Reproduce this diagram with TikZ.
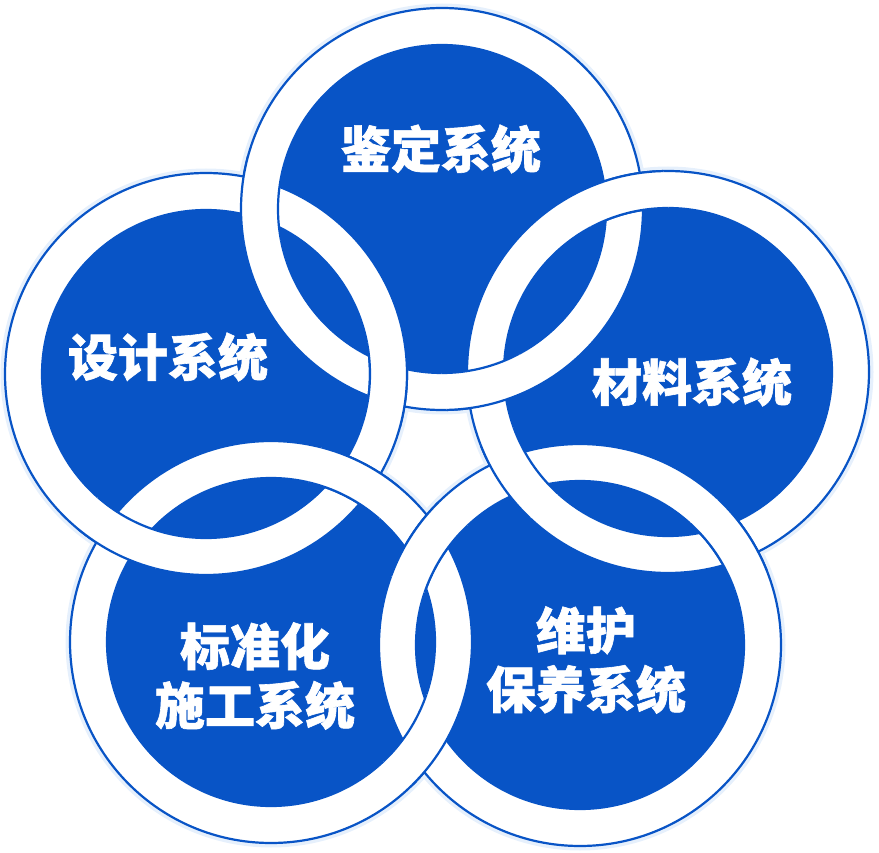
\documentclass[tikz,border=0pt]{standalone}
\usepackage{fontspec}
\newfontfamily\cjk{Noto Sans CJK SC}[BoldFeatures={FakeBold=1.2}]
\definecolor{ringblue}{HTML}{0854C6}
\definecolor{halocol}{HTML}{E6F0FC}
\newcommand\ringRo{201pt}
\newcommand\ringRi{164pt}
\tikzset{
  ringedge/.style={draw=ringblue,line width=2.2pt},
  diskfill/.style={fill=ringblue},
  haloline/.style={draw=halocol,line width=5pt},
  ringtext/.style={text=white,font=\cjk\bfseries\fontsize{50}{59}\selectfont,align=center,inner sep=0pt}
}
\newcommand\ringband[1]{%
  \fill[white,even odd rule] (#1) circle[radius=\ringRo] (#1) circle[radius=\ringRi];
  \draw[ringedge] (#1) circle[radius=\ringRo] (#1) circle[radius=\ringRi];}
\newcommand\overat[2]{%
  \begin{scope}\clip (#1) circle[radius=46pt]; \ringband{#2}\end{scope}}
\begin{document}
\begin{tikzpicture}[x=1pt,y=-1pt]
\useasboundingbox (0,0) rectangle (879,853);
% ring centres
\coordinate (T)  at (442,209);
\coordinate (L)  at (206,374);
\coordinate (R)  at (668,372);
\coordinate (BL) at (271,642);
\coordinate (BR) at (580,645);
% crossing points
\coordinate (xTLo) at (259.8,199.7);
\coordinate (xTLi) at (388.2,383.3);
\coordinate (xTRo) at (624.0,194.9);
\coordinate (xTRi) at (486.0,386.1);
\coordinate (xRBo) at (731.5,543.2);
\coordinate (xRBi) at (516.5,473.8);
\coordinate (xBBo) at (424.6,740.6);
\coordinate (xBBi) at (426.4,546.4);
\coordinate (xLBo) at (122.3,536.2);
\coordinate (xLBi) at (354.6,479.8);
% halo, discs, bands
\foreach \c in {T,L,R,BL,BR} \draw[haloline] (\c) circle[radius=203pt];
\foreach \c in {T,L,R,BL,BR} \fill[diskfill] (\c) circle[radius=\ringRi];
\foreach \c in {T,L,R,BL,BR} {\ringband{\c}}
% over-crossings
\overat{xTLo}{T}
\overat{xTLi}{L}
\overat{xTRo}{R}
\overat{xTRi}{T}
\overat{xRBo}{BR}
\overat{xRBi}{R}
\overat{xBBo}{BL}
\overat{xBBi}{BR}
\overat{xLBo}{L}
\overat{xLBi}{BL}
% labels
\node[ringtext] (tT)  at (441,149) {鉴定系统};
\node[ringtext] (tL)  at (168,357) {设计系统};
\node[ringtext] (tR)  at (692,382) {材料系统};
\node[ringtext] (tBL) at (255,676) {标准化\\施工系统};
\node[ringtext] (tBR) at (586,660) {维护\\保养系统};
\end{tikzpicture}
\end{document}
